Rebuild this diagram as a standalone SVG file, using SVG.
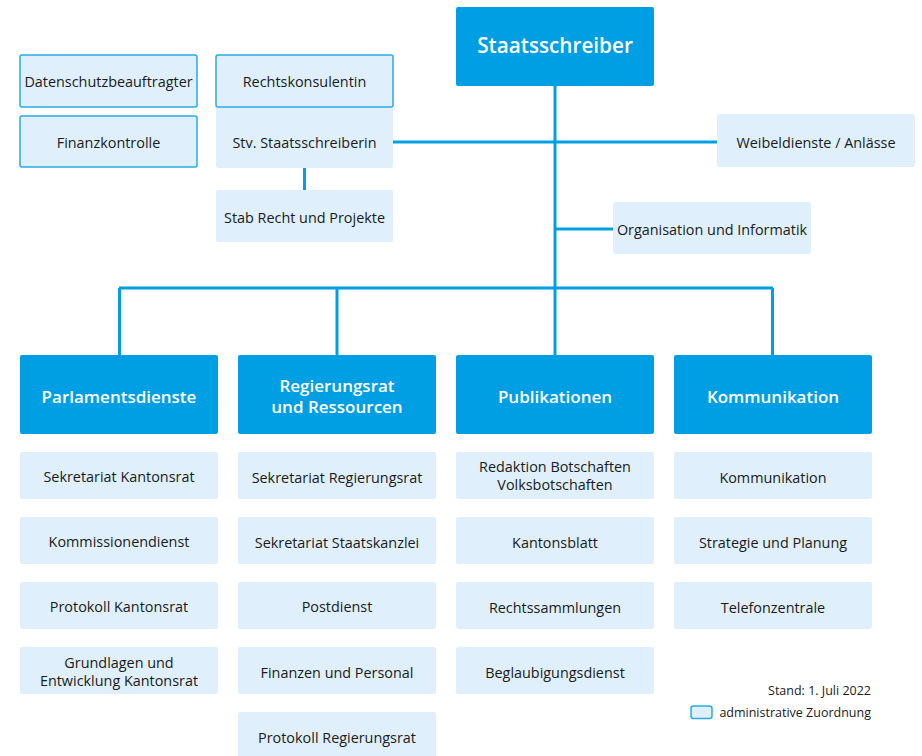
<svg xmlns="http://www.w3.org/2000/svg" width="922" height="756" viewBox="0 0 922 756">
<style>
text{font-family:"Open Sans","Noto Sans","Liberation Sans",sans-serif;text-anchor:middle;dominant-baseline:central;}
.dk{fill:#009FE3;}
.lt{fill:#DFF0FC;}
.bd{fill:#DFF0FC;stroke:#2AAAE6;stroke-width:1.5;}
.t{font-size:14.4px;fill:#1a1a1a;}
.h{font-size:17px;font-weight:600;fill:#ffffff;}
.top{font-size:20.7px;font-weight:600;fill:#ffffff;}
.c{stroke:#009FE3;stroke-width:3;fill:none;}
.s{font-size:12.5px;fill:#1a1a1a;text-anchor:end;}
</style>
<g id="connectors">
<line class="c" x1="555" y1="86" x2="555" y2="289"/>
<line class="c" x1="393" y1="142" x2="718" y2="142"/>
<line class="c" x1="555" y1="229" x2="613" y2="229"/>
<line class="c" x1="304.5" y1="168" x2="304.5" y2="190"/>
<line class="c" x1="119" y1="288" x2="773" y2="288"/>
<line class="c" x1="119.5" y1="288" x2="119.5" y2="355"/>
<line class="c" x1="337" y1="288" x2="337" y2="355"/>
<line class="c" x1="555" y1="288" x2="555" y2="355"/>
<line class="c" x1="772.5" y1="288" x2="772.5" y2="355"/>
</g>
<g id="staatsschreiber"><rect class="dk" x="456" y="7" width="198" height="79" rx="2"/><text class="top" x="555" y="45">Staatsschreiber</text></g>
<g id="datenschutz"><rect class="bd" x="20" y="55" width="177" height="52" rx="2"/><text class="t" x="108.5" y="81">Datenschutzbeauftragter</text></g>
<g id="finanzkontrolle"><rect class="bd" x="20" y="116" width="177" height="51" rx="2"/><text class="t" x="108.5" y="142">Finanzkontrolle</text></g>
<g id="stv"><rect class="lt" x="216" y="107" width="177" height="61" rx="2"/><text class="t" x="304.5" y="142">Stv. Staatsschreiberin</text></g>
<g id="rechtskonsulentin"><rect class="bd" x="216" y="55" width="177" height="52" rx="2"/><text class="t" x="304.5" y="81">Rechtskonsulentin</text></g>
<g id="stab"><rect class="lt" x="216" y="190" width="177" height="52" rx="2"/><text class="t" x="304.5" y="217">Stab Recht und Projekte</text></g>
<g id="weibeldienste"><rect class="lt" x="717" y="114" width="198" height="53" rx="2"/><text class="t" x="816" y="142">Weibeldienste / Anlässe</text></g>
<g id="organisation"><rect class="lt" x="613" y="202" width="198" height="52" rx="2"/><text class="t" x="712" y="229">Organisation und Informatik</text></g>

<g id="parlamentsdienste"><rect class="dk" x="20" y="355" width="198" height="79" rx="2"/><text class="h" x="119" y="396.5">Parlamentsdienste</text></g>
<g id="regierungsrat"><rect class="dk" x="238" y="355" width="198" height="79" rx="2"/><text class="h" x="337" y="385">Regierungsrat</text><text class="h" x="337" y="406">und Ressourcen</text></g>
<g id="publikationen"><rect class="dk" x="456" y="355" width="198" height="79" rx="2"/><text class="h" x="555" y="396.5">Publikationen</text></g>
<g id="kommunikation-h"><rect class="dk" x="674" y="355" width="198" height="79" rx="2"/><text class="h" x="773" y="396.5">Kommunikation</text></g>

<g id="p1"><rect class="lt" x="20" y="452" width="198" height="47" rx="2"/><text class="t" x="119" y="476">Sekretariat Kantonsrat</text></g>
<g id="p2"><rect class="lt" x="20" y="517" width="198" height="47" rx="2"/><text class="t" x="119" y="541">Kommissionendienst</text></g>
<g id="p3"><rect class="lt" x="20" y="582" width="198" height="47" rx="2"/><text class="t" x="119" y="606">Protokoll Kantonsrat</text></g>
<g id="p4"><rect class="lt" x="20" y="647" width="198" height="47" rx="2"/><text class="t" x="119" y="662">Grundlagen und</text><text class="t" x="119" y="680.5">Entwicklung Kantonsrat</text></g>

<g id="r1"><rect class="lt" x="238" y="452" width="198" height="47" rx="2"/><text class="t" x="337" y="477">Sekretariat Regierungsrat</text></g>
<g id="r2"><rect class="lt" x="238" y="517" width="198" height="47" rx="2"/><text class="t" x="337" y="542">Sekretariat Staatskanzlei</text></g>
<g id="r3"><rect class="lt" x="238" y="582" width="198" height="47" rx="2"/><text class="t" x="337" y="606">Postdienst</text></g>
<g id="r4"><rect class="lt" x="238" y="647" width="198" height="47" rx="2"/><text class="t" x="337" y="672">Finanzen und Personal</text></g>
<g id="r5"><rect class="lt" x="238" y="712" width="198" height="47" rx="2"/><text class="t" x="337" y="737">Protokoll Regierungsrat</text></g>

<g id="u1"><rect class="lt" x="456" y="452" width="198" height="47" rx="2"/><text class="t" x="555" y="466.5">Redaktion Botschaften</text><text class="t" x="555" y="484.5">Volksbotschaften</text></g>
<g id="u2"><rect class="lt" x="456" y="517" width="198" height="47" rx="2"/><text class="t" x="555" y="542">Kantonsblatt</text></g>
<g id="u3"><rect class="lt" x="456" y="582" width="198" height="47" rx="2"/><text class="t" x="555" y="607">Rechtssammlungen</text></g>
<g id="u4"><rect class="lt" x="456" y="647" width="198" height="47" rx="2"/><text class="t" x="555" y="672">Beglaubigungsdienst</text></g>

<g id="k1"><rect class="lt" x="674" y="452" width="198" height="47" rx="2"/><text class="t" x="773" y="477">Kommunikation</text></g>
<g id="k2"><rect class="lt" x="674" y="517" width="198" height="47" rx="2"/><text class="t" x="773" y="542">Strategie und Planung</text></g>
<g id="k3"><rect class="lt" x="674" y="582" width="198" height="47" rx="2"/><text class="t" x="773" y="607">Telefonzentrale</text></g>

<g id="legend">
<text class="s" x="871" y="690.5">Stand: 1. Juli 2022</text>
<rect class="bd" x="691" y="706" width="21" height="12.5" rx="2.5"/>
<text class="s" x="871" y="712">administrative Zuordnung</text>
</g>
</svg>
